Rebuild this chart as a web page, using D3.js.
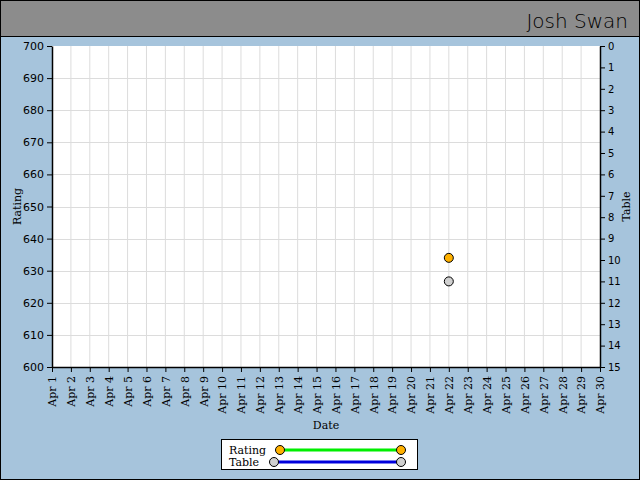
<!DOCTYPE html>
<html>
<head>
<meta charset="utf-8">
<script src="https://cdn.jsdelivr.net/npm/d3@7"></script>
<style>
  body { margin: 0; background: #fff; }
  svg { display: block; }
</style>
</head>
<body>
<div id="chart"></div>
<script>
// chart data
const title = "Josh Swan";
const dayNumbers = d3.range(1, 31);
const dateLabels = dayNumbers.map(d => "Apr " + d);
const ratingTicks = [600, 610, 620, 630, 640, 650, 660, 670, 680, 690, 700];
const tableTicks = d3.range(0, 16);
const ratingPoints = [{ day: 22, value: 634 }];
const tablePoints = [{ day: 22, value: 11 }];

const W = 640, H = 480;
const margin = { top: 46, right: 40, bottom: 113, left: 52 };

const svg = d3.select("#chart").append("svg")
  .attr("width", W)
  .attr("height", H);

// background + title bar
svg.append("rect").attr("x", 0.5).attr("y", 0.5).attr("width", W - 1).attr("height", H - 1)
  .attr("fill", "#a6c4dc").attr("stroke", "#000");
svg.append("rect").attr("x", 0.5).attr("y", 0.5).attr("width", W - 1).attr("height", 36)
  .attr("fill", "#8c8c8c").attr("stroke", "#000");
svg.append("text")
  .attr("x", 628).attr("y", 28)
  .attr("text-anchor", "end")
  .style("font-family", "'DejaVu Sans', sans-serif")
  .style("font-weight", "200")
  .style("font-size", "20px")
  .style("fill", "#000")
  .text(title);

const x = d3.scalePoint()
  .domain(dayNumbers)
  .range([margin.left, W - margin.right]);

const y = d3.scaleLinear()
  .domain([600, 700])
  .range([H - margin.bottom, margin.top]);

const y2 = d3.scaleLinear()
  .domain([0, 15])
  .range([margin.top, H - margin.bottom]);

// plot area
svg.append("rect")
  .attr("x", margin.left).attr("y", margin.top)
  .attr("width", W - margin.left - margin.right)
  .attr("height", H - margin.top - margin.bottom)
  .attr("fill", "#fff");

// gridlines
const grid = svg.append("g").attr("stroke", "#dcdcdc").attr("stroke-width", 1);
grid.selectAll(".vg").data(dayNumbers.slice(1, -1)).enter().append("line")
  .attr("x1", d => x(d)).attr("x2", d => x(d))
  .attr("y1", margin.top).attr("y2", H - margin.bottom);
grid.selectAll(".hg").data(ratingTicks.slice(1, -1)).enter().append("line")
  .attr("y1", d => Math.round(y(d)) + 0.5).attr("y2", d => Math.round(y(d)) + 0.5)
  .attr("x1", margin.left).attr("x2", W - margin.right);

// left axis
const gLeft = svg.append("g")
  .attr("transform", `translate(${margin.left},0)`)
  .call(d3.axisLeft(y).tickValues(ratingTicks).tickSize(5).tickSizeOuter(0));
gLeft.selectAll("text")
  .style("font-family", "'DejaVu Sans', sans-serif")
  .style("font-size", "11px")
  .attr("fill", "#000");

// right axis
const gRight = svg.append("g")
  .attr("transform", `translate(${W - margin.right},0)`)
  .call(d3.axisRight(y2).tickValues(tableTicks).tickSize(5).tickSizeOuter(0));
gRight.selectAll("text")
  .style("font-family", "'DejaVu Sans', sans-serif")
  .style("font-size", "10px")
  .attr("fill", "#000");

// bottom axis
const gBottom = svg.append("g")
  .attr("transform", `translate(0,${H - margin.bottom})`)
  .call(d3.axisBottom(x).tickSize(5).tickSizeOuter(0).tickFormat((d, i) => dateLabels[i]));
gBottom.selectAll("text")
  .style("font-family", "'DejaVu Serif', serif")
  .style("font-size", "11px")
  .attr("fill", "#000")
  .attr("text-anchor", "end")
  .attr("transform", "rotate(-90)")
  .attr("x", -9)
  .attr("y", 0)
  .attr("dy", "0.35em");

svg.selectAll(".domain").attr("stroke", "#000").attr("stroke-width", 1.5);
svg.selectAll(".tick line").attr("stroke", "#000");

// axis titles
const titleStyle = sel => sel
  .style("font-family", "'DejaVu Serif', serif")
  .style("font-size", "11px")
  .attr("fill", "#000");

svg.append("text").call(titleStyle)
  .attr("text-anchor", "middle")
  .attr("transform", `translate(21,${(margin.top + H - margin.bottom) / 2}) rotate(-90)`)
  .text("Rating");
svg.append("text").call(titleStyle)
  .attr("text-anchor", "middle")
  .attr("transform", `translate(630,${(margin.top + H - margin.bottom) / 2}) rotate(-90)`)
  .text("Table");
svg.append("text").call(titleStyle)
  .attr("text-anchor", "middle")
  .attr("x", (margin.left + W - margin.right) / 2)
  .attr("y", 429)
  .text("Date");

// points
svg.selectAll(".rating").data(ratingPoints).enter().append("circle")
  .attr("cx", d => x(d.day)).attr("cy", d => y(d.value)).attr("r", 4.5)
  .attr("fill", "#ffb100").attr("stroke", "#000").attr("stroke-width", 1);
svg.selectAll(".table").data(tablePoints).enter().append("circle")
  .attr("cx", d => x(d.day)).attr("cy", d => y2(d.value)).attr("r", 4.5)
  .attr("fill", "#d0d0d0").attr("stroke", "#000").attr("stroke-width", 1);

// legend
const legend = svg.append("g");
legend.append("rect")
  .attr("x", 221.5).attr("y", 439.5).attr("width", 196).attr("height", 30)
  .attr("fill", "#fff").attr("stroke", "#000");
const legendItems = [
  { name: "Rating", x1: 280, x2: 401, y: 450, line: "#00ee00", fill: "#ffb100" },
  { name: "Table", x1: 274, x2: 401, y: 462, line: "#0000dd", fill: "#d0d0d0" }
];
legendItems.forEach(it => {
  legend.append("text").call(titleStyle)
    .attr("x", 229).attr("y", it.y + 4).text(it.name);
  legend.append("line")
    .attr("x1", it.x1).attr("x2", it.x2).attr("y1", it.y).attr("y2", it.y)
    .attr("stroke", it.line).attr("stroke-width", 3);
  [it.x1, it.x2].forEach(cx => legend.append("circle")
    .attr("cx", cx).attr("cy", it.y).attr("r", 4.5)
    .attr("fill", it.fill).attr("stroke", "#000"));
});
</script>
</body>
</html>
